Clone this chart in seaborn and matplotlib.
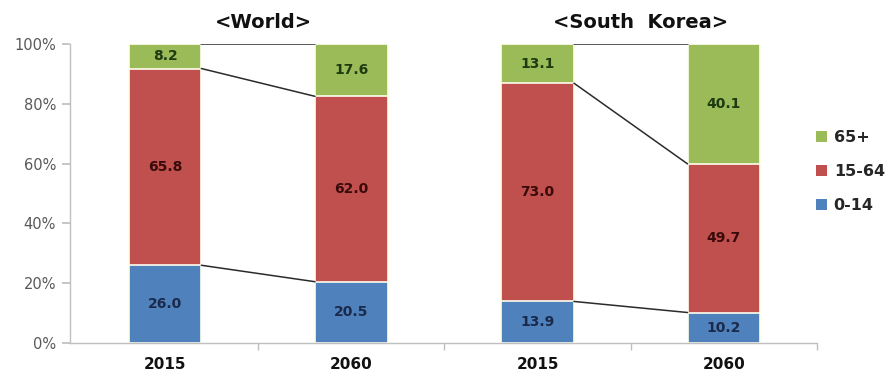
import numpy as np
import pandas as pd
import matplotlib
matplotlib.use("Agg")
import matplotlib.pyplot as plt
import seaborn as sns
from matplotlib.patches import Patch
from matplotlib.ticker import FixedLocator

# --- data -------------------------------------------------------------
bars = ["World 2015", "World 2060", "Korea 2015", "Korea 2060"]
years = ["2015", "2060", "2015", "2060"]
panels = ["<World>", "<South  Korea>"]
age_groups = ["0-14", "15-64", "65+"]
share_0_14 = [26.0, 20.5, 13.9, 10.2]
share_15_64 = [65.8, 62.0, 73.0, 49.7]
share_65 = [8.2, 17.6, 13.1, 40.1]

# --- styling ----------------------------------------------------------
sns.set_theme(style="white")
plt.rcParams["font.family"] = ["DejaVu Sans"]

colors = {"0-14": "#4F81BD", "15-64": "#C0504D", "65+": "#9BBB59"}
label_colors = {"0-14": "#1B2A4A", "15-64": "#3A0A0A", "65+": "#1E3A10"}

df = pd.DataFrame({"bar": bars, "year": years,
                   "0-14": share_0_14, "15-64": share_15_64, "65+": share_65})
df["top_0_14"] = df["0-14"]
df["top_15_64"] = df["0-14"] + df["15-64"]
df["top_65"] = df["top_15_64"] + df["65+"]

fig = plt.figure(figsize=(8.91, 3.81), dpi=100)
ax = fig.add_axes([0.0786, 0.0997, 0.9170 - 0.0786, 0.8845 - 0.0997])

width = 0.39
# stacked bars drawn as overlapping cumulative totals
for col, grp in [("top_65", "65+"), ("top_15_64", "15-64"), ("top_0_14", "0-14")]:
    sns.barplot(data=df, x="bar", y=col, order=bars, color=colors[grp],
                width=width, edgecolor="#FFFFEE", linewidth=1.2,
                saturation=1, ax=ax)

# value labels in the middle of each segment
bottoms = np.zeros(len(df))
for grp in age_groups:
    vals = df[grp].to_numpy()
    for i, v in enumerate(vals):
        ax.text(i, bottoms[i] + v / 2, f"{v:.1f}", ha="center", va="center",
                fontsize=10, fontweight="bold", color=label_colors[grp])
    bottoms = bottoms + vals

# connectors between the two years of each panel
for a, b in [(0, 1), (2, 3)]:
    for col in ["top_0_14", "top_15_64", "top_65"]:
        y0 = min(df.loc[a, col], 100)
        y1 = min(df.loc[b, col], 100)
        ax.plot([a + width / 2, b - width / 2], [y0, y1],
                color="#2B2B2B", lw=1.1, zorder=1)

ax.set_xlim(-0.51, 3.5)
ax.set_ylim(0, 100)
ax.set_yticks(range(0, 101, 20))
ax.set_yticklabels([f"{t}%" for t in range(0, 101, 20)],
                   fontsize=10.5, color="#595959")
ax.set_xticks(range(len(bars)))
ax.set_xticklabels(years, fontsize=11, fontweight="bold", color="#111111")
ax.xaxis.set_minor_locator(FixedLocator([0.5, 1.5, 2.5, 3.5]))
ax.tick_params(axis="x", which="major", length=0, pad=10)
ax.tick_params(axis="x", which="minor", length=5, color="#BFBFBF",
               direction="out", bottom=True)
ax.tick_params(axis="y", length=6, color="#BFBFBF", direction="out",
               left=True, pad=4)
ax.set_xlabel("")
ax.set_ylabel("")
for side in ["top", "right"]:
    ax.spines[side].set_visible(False)
for side in ["left", "bottom"]:
    ax.spines[side].set_color("#BFBFBF")
    ax.spines[side].set_linewidth(1)

# panel titles
trans = ax.get_xaxis_transform()
ax.text(0.53, 1.072, panels[0], transform=trans, ha="center", va="center",
        fontsize=14, fontweight="bold", color="#111111")
ax.text(2.55, 1.072, panels[1], transform=trans, ha="center", va="center",
        fontsize=14, fontweight="bold", color="#111111")

handles = [Patch(facecolor=colors[g], edgecolor="none", label=g)
           for g in reversed(age_groups)]
leg = fig.legend(handles=handles, loc="center left",
                 bbox_to_anchor=(0.916, 0.549), frameon=False,
                 borderpad=0, borderaxespad=0,
                 handlelength=0.7, handleheight=0.7, handletextpad=0.4,
                 labelspacing=1.2, prop={"size": 11.5, "weight": "bold"})

fig.savefig("out.png", dpi=100, facecolor="white")
